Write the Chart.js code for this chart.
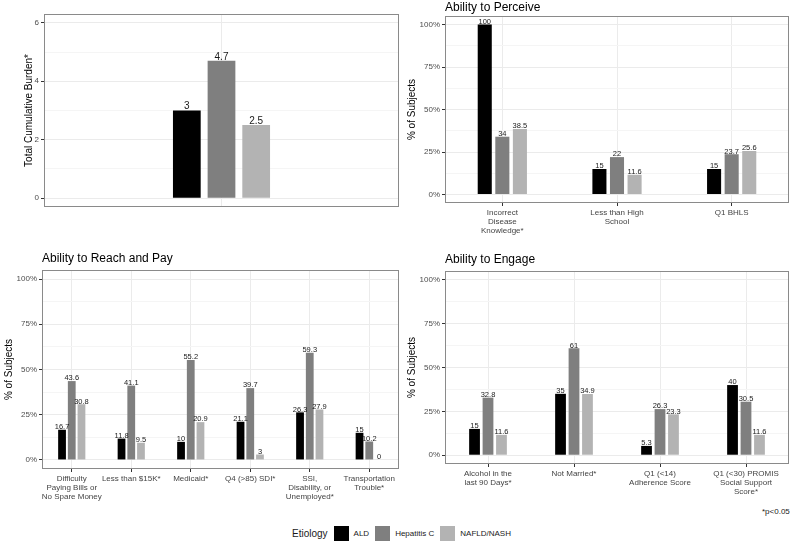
<!DOCTYPE html>
<html>
<head>
<meta charset="utf-8">
<script src="https://cdn.jsdelivr.net/npm/chart.js@4.4.0/dist/chart.umd.min.js"></script>
<style>
  body { margin: 0; background: #fff; width: 792px; height: 543px; position: relative; overflow: hidden;
         font-family: 'Liberation Sans', Arial, sans-serif; }
  canvas { position: absolute; }
  #legend { position: absolute; left: 292px; top: 526px; display: flex; align-items: center; font-size: 8px; color: #1a1a1a; }
  #legend .ttl { font-size: 10px; margin-right: 6px; }
  #legend .key { width: 15px; height: 15px; margin-right: 5px; }
  #legend .lbl { margin-right: 6px; }
  #note { position: absolute; left: 762px; top: 507px; font-size: 8px; color: #1a1a1a; }
</style>
</head>
<body>
<canvas id="burdenChart" width="400" height="240" style="left:0;top:0"></canvas>
<canvas id="perceiveChart" width="392" height="240" style="left:400px;top:0"></canvas>
<canvas id="reachChart" width="400" height="262" style="left:0;top:240px"></canvas>
<canvas id="engageChart" width="392" height="262" style="left:400px;top:240px"></canvas>
<div id="legend"></div>
<div id="note">*p&lt;0.05</div>
<script>
const seriesNames = ['ALD', 'Hepatitis C', 'NAFLD/NASH'];
const seriesColors = ['#000000', '#7f7f7f', '#b3b3b3'];

const burdenLabels = [''];
const burdenALD = [3];
const burdenHCV = [4.7];
const burdenNAFLD = [2.5];
const burdenTicks = [0, 2, 4, 6];
const burdenGrid = [0, 1, 2, 3, 4, 5, 6];

const perceiveLabels = [['Incorrect', 'Disease', 'Knowledge*'], ['Less than High', 'School'], ['Q1 BHLS']];
const perceiveALD = [100, 15, 15];
const perceiveHCV = [34, 22, 23.7];
const perceiveNAFLD = [38.5, 11.6, 25.6];

const reachLabels = [['Difficulty', 'Paying Bills or', 'No Spare Money'], ['Less than $15K*'], ['Medicaid*'],
  ['Q4 (>85) SDI*'], ['SSI,', 'Disability, or', 'Unemployed*'], ['Transportation', 'Trouble*']];
const reachALD = [16.7, 11.8, 10, 21.1, 26.3, 15];
const reachHCV = [43.6, 41.1, 55.2, 39.7, 59.3, 10.2];
const reachNAFLD = [30.8, 9.5, 20.9, 3, 27.9, 0];

const engageLabels = [['Alcohol in the', 'last 90 Days*'], ['Not Married*'], ['Q1 (<14)', 'Adherence Score'],
  ['Q1 (<30) PROMIS', 'Social Support', 'Score*']];
const engageALD = [15, 35, 5.3, 40];
const engageHCV = [32.8, 61, 26.3, 30.5];
const engageNAFLD = [11.6, 34.9, 23.3, 11.6];

const pctTicks = [0, 25, 50, 75, 100];
const pctGrid = [0, 12.5, 25, 37.5, 50, 62.5, 75, 87.5, 100];

const FONT = "'Liberation Sans', Arial, sans-serif";

// frame around the plotting area, like the ggplot panel border
const panelBorder = {
  id: 'panelBorder',
  afterDraw(chart) {
    const a = chart.chartArea, ctx = chart.ctx;
    ctx.save();
    ctx.strokeStyle = '#8a8a8a';
    ctx.lineWidth = 1;
    ctx.strokeRect(a.left + 0.5, a.top + 0.5, a.right - a.left - 1, a.bottom - a.top - 1);
    ctx.restore();
  }
};

// numbers printed on top of every bar
const valueLabels = {
  id: 'valueLabels',
  afterDatasetsDraw(chart, args, opts) {
    const ctx = chart.ctx;
    ctx.save();
    ctx.font = opts.size + 'px ' + FONT;
    ctx.fillStyle = '#1a1a1a';
    ctx.textAlign = 'center';
    ctx.textBaseline = 'bottom';
    chart.data.datasets.forEach((ds, i) => {
      chart.getDatasetMeta(i).data.forEach((bar, j) => {
        ctx.fillText(String(ds.data[j]), bar.x, bar.y + opts.lift);
      });
    });
    ctx.restore();
  }
};

// panel title, left aligned with the plot box
const panelTitle = {
  id: 'panelTitle',
  afterDraw(chart, args, opts) {
    if (!opts.text) return;
    const ctx = chart.ctx;
    ctx.save();
    ctx.font = '12px ' + FONT;
    ctx.fillStyle = '#000';
    ctx.textAlign = 'left';
    ctx.textBaseline = 'alphabetic';
    ctx.fillText(opts.text, chart.chartArea.left, chart.chartArea.top - opts.gap);
    ctx.restore();
  }
};

function makeChart(id, labels, a, b, c, cfg) {
  const canvas = document.getElementById(id);
  const box = cfg.box;
  const major = cfg.ticks;
  return new Chart(canvas, {
    type: 'bar',
    data: {
      labels: labels,
      datasets: [a, b, c].map((d, i) => ({
        label: seriesNames[i],
        data: d,
        backgroundColor: seriesColors[i],
        borderWidth: 0,
        categoryPercentage: cfg.cat,
        barPercentage: 0.8
      }))
    },
    options: {
      responsive: false,
      animation: false,
      devicePixelRatio: 1,
      layout: { padding: { left: 0, top: box[1], right: canvas.width - box[2], bottom: 0 } },
      plugins: {
        legend: { display: false },
        tooltip: { enabled: false },
        valueLabels: { size: cfg.valueSize, lift: cfg.valueLift },
        panelTitle: { text: cfg.title, gap: cfg.titleGap }
      },
      scales: {
        x: {
          afterFit: (s) => { s.height = canvas.height - box[3]; },
          border: { display: false },
          grid: {
            offset: false,
            color: '#ebebeb',
            drawTicks: cfg.xTicks,
            tickLength: 3,
            tickColor: '#333'
          },
          ticks: {
            display: cfg.xTicks,
            autoSkip: false,
            maxRotation: 0,
            minRotation: 0,
            padding: 2,
            color: '#444',
            font: { family: FONT, size: 8, lineHeight: 1.15 }
          }
        },
        y: {
          min: cfg.min,
          max: cfg.max,
          afterFit: (s) => { s.width = box[0]; },
          afterBuildTicks: (s) => { s.ticks = cfg.grid.map(v => ({ value: v })); },
          border: { display: false },
          grid: {
            color: (ctx) => major.includes(ctx.tick.value) ? '#ebebeb' : '#f5f5f5',
            tickColor: (ctx) => major.includes(ctx.tick.value) ? '#333' : 'rgba(0,0,0,0)',
            tickLength: 3
          },
          ticks: {
            padding: 2,
            color: '#4d4d4d',
            font: { family: FONT, size: 8 },
            callback: (v) => major.includes(v) ? cfg.fmt(v) : ''
          },
          title: {
            display: true,
            text: cfg.yTitle,
            color: '#000',
            font: { family: FONT, size: 10 },
            padding: { top: cfg.yTitlePad, bottom: 0 }
          }
        }
      }
    },
    plugins: [panelBorder, valueLabels, panelTitle]
  });
}

const pct = (v) => v + '%';

makeChart('burdenChart', burdenLabels, burdenALD, burdenHCV, burdenNAFLD, {
  box: [44, 14, 399, 207], cat: 0.293, min: -0.3, max: 6.3, ticks: burdenTicks, grid: burdenGrid,
  fmt: (v) => String(v), yTitle: 'Total Cumulative Burden*', yTitlePad: 23, xTicks: false,
  valueSize: 10, valueLift: 1, title: '', titleGap: 0
});
makeChart('perceiveChart', perceiveLabels, perceiveALD, perceiveHCV, perceiveNAFLD, {
  box: [45, 16, 389, 203], cat: 0.46, min: -5, max: 105, ticks: pctTicks, grid: pctGrid,
  fmt: pct, yTitle: '% of Subjects', yTitlePad: 6, xTicks: true,
  valueSize: 7.5, valueLift: 1, title: 'Ability to Perceive', titleGap: 5
});
makeChart('reachChart', reachLabels, reachALD, reachHCV, reachNAFLD, {
  box: [42, 30, 399, 229], cat: 0.49, min: -5, max: 105, ticks: pctTicks, grid: pctGrid,
  fmt: pct, yTitle: '% of Subjects', yTitlePad: 3, xTicks: true,
  valueSize: 7.5, valueLift: 1, title: 'Ability to Reach and Pay', titleGap: 8
});
makeChart('engageChart', engageLabels, engageALD, engageHCV, engageNAFLD, {
  box: [45, 31, 389, 224], cat: 0.47, min: -5, max: 105, ticks: pctTicks, grid: pctGrid,
  fmt: pct, yTitle: '% of Subjects', yTitlePad: 6, xTicks: true,
  valueSize: 7.5, valueLift: 1, title: 'Ability to Engage', titleGap: 8
});

// shared legend
const legend = document.getElementById('legend');
legend.innerHTML = '<span class="ttl">Etiology</span>' + seriesNames.map((n, i) =>
  '<span class="key" style="background:' + seriesColors[i] + '"></span><span class="lbl">' + n + '</span>').join('');
</script>
</body>
</html>
